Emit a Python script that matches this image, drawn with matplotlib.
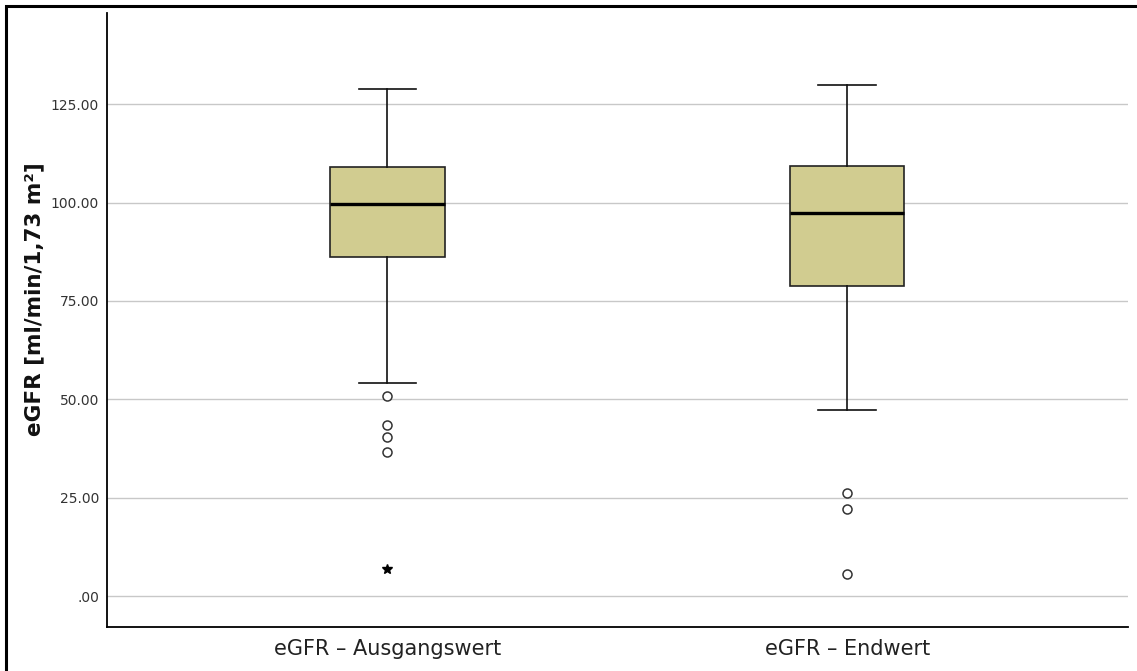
import matplotlib
matplotlib.use("Agg")
import matplotlib.pyplot as plt
from matplotlib.patches import Rectangle

# Summary statistics per measurement (eGFR in ml/min/1,73 m²)
categories = ["eGFR \u2013 Ausgangswert", "eGFR \u2013 Endwert"]
whisker_high = [129.0, 130.0]
q3 = [109.0, 109.3]
median = [99.7, 97.3]
q1 = [86.3, 78.7]
whisker_low = [54.1, 47.3]
outliers = [[50.8, 43.6, 40.3, 36.5], [26.3, 22.2, 5.5]]
extremes = [[6.9], []]

y_ticks = [0, 25, 50, 75, 100, 125]
y_tick_labels = [".00", "25.00", "50.00", "75.00", "100.00", "125.00"]

box_color = "#D1CC90"
grid_color = "#C8C8C8"
text_color = "#333333"

fig = plt.figure(figsize=(11.37, 6.71), dpi=100)
ax = fig.add_axes([0.0944, 0.066, 0.8974, 0.914])

positions = list(range(1, len(categories) + 1))
stats = []
for i, label in enumerate(categories):
    stats.append({
        "label": label,
        "whislo": whisker_low[i],
        "q1": q1[i],
        "med": median[i],
        "q3": q3[i],
        "whishi": whisker_high[i],
        "fliers": [],
    })

ax.bxp(
    stats,
    positions=positions,
    widths=0.249,
    capwidths=0.125,
    patch_artist=True,
    showfliers=False,
    boxprops=dict(facecolor=box_color, edgecolor="#222222", linewidth=1.2),
    medianprops=dict(color="black", linewidth=2.4),
    whiskerprops=dict(color="#111111", linewidth=1.2),
    capprops=dict(color="#111111", linewidth=1.2),
    zorder=3,
)

# Outliers (circles) and extreme values (stars)
for pos, vals in zip(positions, outliers):
    ax.plot([pos] * len(vals), vals, linestyle="none", marker="o",
            markersize=6.5, markerfacecolor="white",
            markeredgecolor="#333333", markeredgewidth=1.1, zorder=4)
for pos, vals in zip(positions, extremes):
    if vals:
        ax.plot([pos] * len(vals), vals, linestyle="none", marker="*",
                markersize=7, color="black", zorder=4)

ax.set_xlim(0.391, 2.61)
ax.set_ylim(-7.8, 148.1)
ax.set_yticks(y_ticks)
ax.set_yticklabels(y_tick_labels)
ax.set_xticks(positions)
ax.set_xticklabels(categories)

ax.yaxis.grid(True, color=grid_color, linewidth=1.0, zorder=0)
ax.set_axisbelow(True)

ax.spines["top"].set_visible(False)
ax.spines["right"].set_visible(False)
ax.spines["left"].set_linewidth(1.3)
ax.spines["bottom"].set_linewidth(1.3)

ax.tick_params(axis="y", length=0, pad=6, labelsize=10, labelcolor=text_color)
ax.tick_params(axis="x", length=0, pad=9, labelsize=15, labelcolor="#222222")

ax.set_ylabel("eGFR [ml/min/1,73 m\u00b2]", fontsize=15.5, fontweight="bold",
              color="#111111")
ax.yaxis.set_label_coords(-0.0718, 0.534)
ax.yaxis.label.set_verticalalignment("center")

# Frame around the whole figure
fig.patches.append(Rectangle((6 / 1137, -0.1), 1.2, 1.1 - 6 / 671 + 0.0,
                             transform=fig.transFigure, fill=False,
                             edgecolor="black", linewidth=2.2))

fig.savefig("out.png", dpi=100, facecolor="white")
